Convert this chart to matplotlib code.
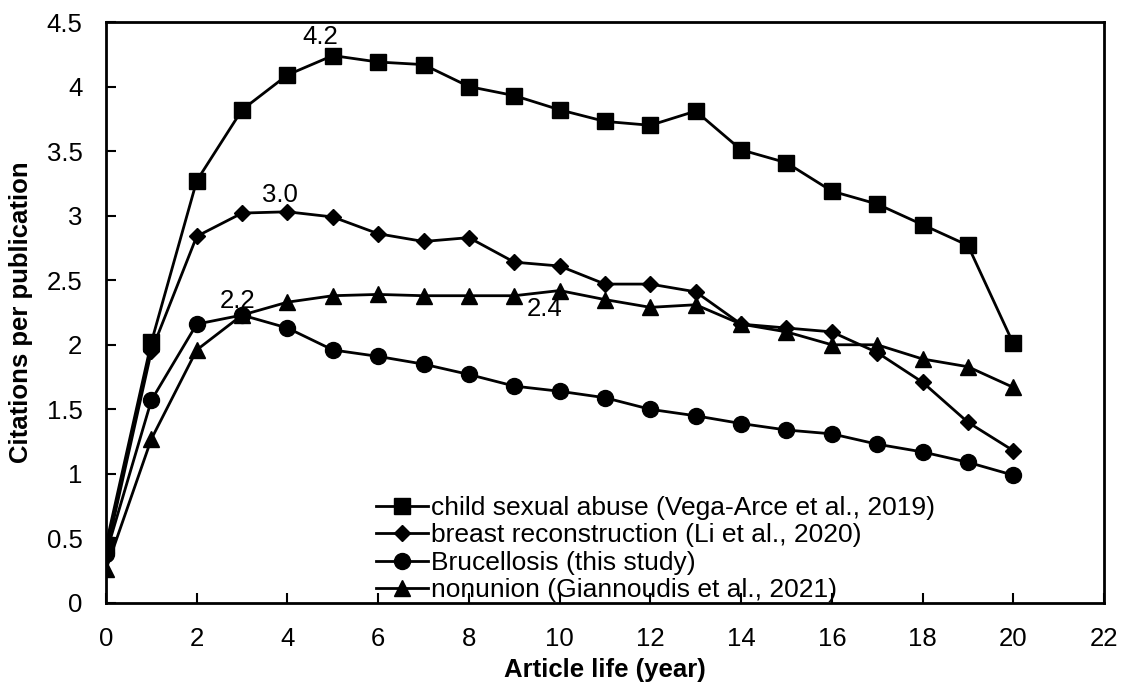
import matplotlib.pyplot as plt

plt.rcParams['font.family'] = ['Liberation Sans', 'DejaVu Sans']

years = list(range(21))

child_abuse = [0.45, 2.02, 3.27, 3.82, 4.09, 4.24, 4.19, 4.17, 4.00, 3.93, 3.82,
               3.73, 3.70, 3.81, 3.51, 3.41, 3.19, 3.09, 2.93, 2.77, 2.01]
breast_recon = [0.38, 1.95, 2.84, 3.02, 3.03, 2.99, 2.86, 2.80, 2.83, 2.64, 2.61,
                2.47, 2.47, 2.41, 2.16, 2.13, 2.10, 1.94, 1.71, 1.40, 1.18]
brucellosis = [0.38, 1.57, 2.16, 2.23, 2.13, 1.96, 1.91, 1.85, 1.77, 1.68, 1.64,
               1.59, 1.50, 1.45, 1.39, 1.34, 1.31, 1.23, 1.17, 1.09, 0.99]
nonunion = [0.26, 1.27, 1.96, 2.23, 2.33, 2.38, 2.39, 2.38, 2.38, 2.38, 2.42,
            2.35, 2.29, 2.31, 2.16, 2.10, 2.00, 2.00, 1.89, 1.83, 1.67]

labels = ["child sexual abuse (Vega-Arce et al., 2019)",
          "breast reconstruction (Li et al., 2020)",
          "Brucellosis (this study)",
          "nonunion (Giannoudis et al., 2021)"]

# peak annotations: (x, y, text)
peak_x = [4.72, 3.84, 2.89, 9.68]
peak_y = [4.29, 3.07, 2.25, 2.28]
peak_text = ["4.2", "3.0", "2.2", "2.4"]

fig = plt.figure(figsize=(11.22, 6.82), dpi=100)
ax = fig.add_axes([106 / 1122, 1 - 603 / 682, 998 / 1122, 581 / 682])

ax.plot(years, child_abuse, color='black', lw=2, marker='s', ms=11, label=labels[0])
ax.plot(years, breast_recon, color='black', lw=2, marker='D', ms=8.5, label=labels[1])
ax.plot(years, brucellosis, color='black', lw=2, marker='o', ms=11.5, label=labels[2])
ax.plot(years, nonunion, color='black', lw=2, marker='^', ms=11.5, label=labels[3])

for x, y, t in zip(peak_x, peak_y, peak_text):
    va = 'bottom' if t != "2.4" else 'center'
    ax.text(x, y, t, ha='center', va=va, fontsize=18.5)

ax.set_xlim(0, 22)
ax.set_ylim(0, 4.5)
ax.set_xticks(range(0, 23, 2))
ax.set_yticks([i * 0.5 for i in range(10)])
ax.set_yticklabels(["0", "0.5", "1", "1.5", "2", "2.5", "3", "3.5", "4", "4.5"])
ax.tick_params(direction='in', length=7, width=1.5, labelsize=18.5, pad=17)
for s in ax.spines.values():
    s.set_linewidth(2)

ax.set_xlabel("Article life (year)", fontsize=18.5, fontweight='bold', labelpad=5)
ax.set_ylabel("Citations per publication", fontsize=18.5, fontweight='bold', labelpad=10)

ax.legend(loc='lower left', bbox_to_anchor=(0.249, -0.035), frameon=False, fontsize=19,
          handlelength=2.0, handletextpad=0.08, labelspacing=0.13, borderpad=0.3)

fig.savefig("out.png", dpi=100)
